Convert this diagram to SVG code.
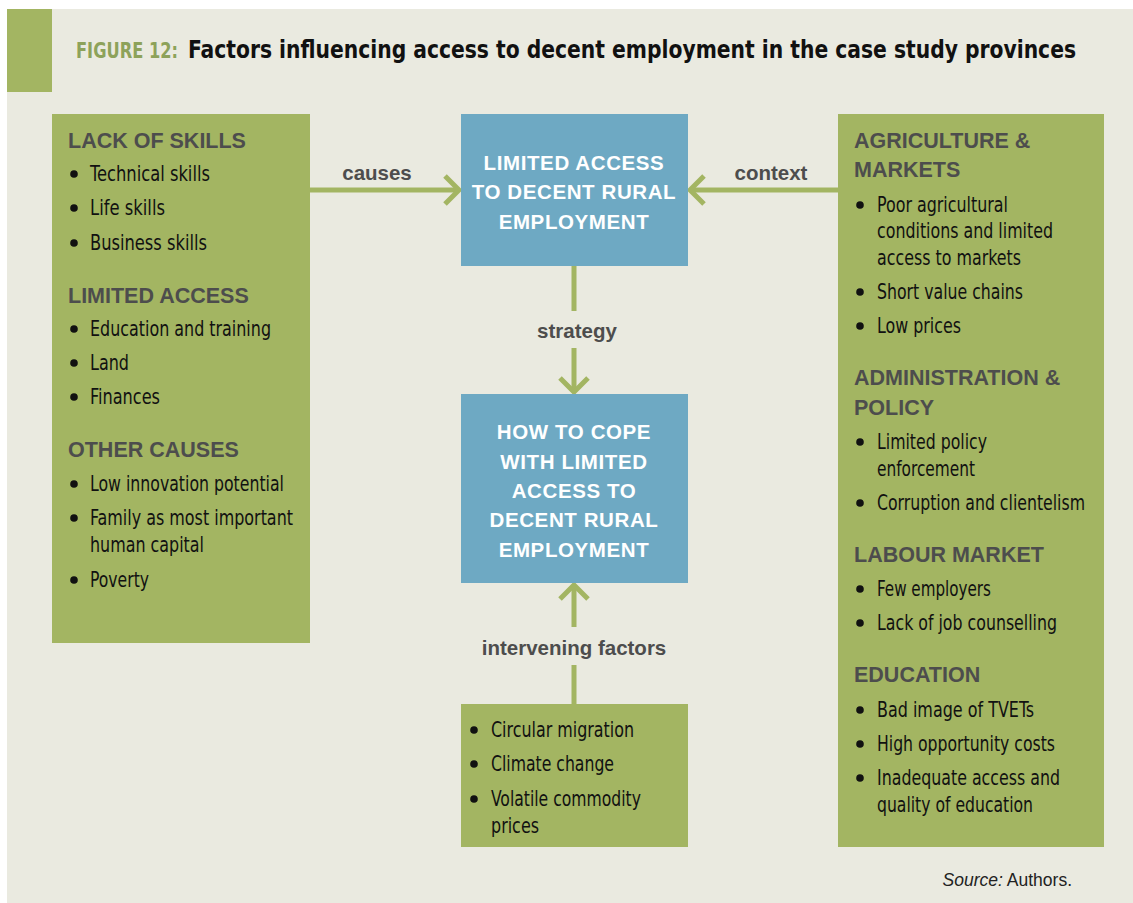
<svg xmlns="http://www.w3.org/2000/svg" width="1133" height="903" viewBox="0 0 1133 903">
<style>
.bg{fill:#EAEAE0}
.gbox{fill:#A3B562}
.bbox{fill:#6EA9C3}
.hd{font-family:"Liberation Sans",Arial,sans-serif;font-weight:bold;font-size:21.5px;fill:#4D4D4D}
.it{font-family:"DejaVu Sans Condensed","Liberation Sans Narrow","Liberation Sans",sans-serif;font-size:22px;fill:#111}
.bt{font-family:"Liberation Sans",Arial,sans-serif;font-weight:bold;font-size:20.5px;fill:#fff;text-anchor:middle;letter-spacing:0.6px}
.lb{font-family:"Liberation Sans",Arial,sans-serif;font-weight:bold;font-size:20.5px;fill:#4D4D4D;text-anchor:middle}
.dot{fill:#111}
.conn{stroke:#A3B562;stroke-width:5;fill:none}
</style>
<defs>
<marker id="chev" markerUnits="userSpaceOnUse" viewBox="0 0 20 32" markerWidth="20" markerHeight="32" refX="17" refY="16" orient="auto">
<path d="M3,2 L17,16 L3,30" stroke="#A3B562" stroke-width="5" fill="none"/>
</marker>
</defs>
<rect x="0" y="0" width="1133" height="903" fill="#fff"/>
<rect class="bg" x="7" y="9" width="1126" height="894"/>
<g id="title">
<rect class="gbox" x="7" y="9" width="45" height="83"/>
<text x="76" y="58" font-family="DejaVu Sans Condensed,sans-serif" font-size="22" fill="#8DA25A" font-weight="bold" textLength="102" lengthAdjust="spacingAndGlyphs">FIGURE 12:</text>
<text x="188" y="58" font-family="DejaVu Sans Condensed,sans-serif" font-size="24" font-weight="bold" fill="#111" textLength="888" lengthAdjust="spacingAndGlyphs">Factors influencing access to decent employment in the case study provinces</text>
</g>
<g id="connectors">
<line class="conn" x1="310" y1="190" x2="459" y2="190" marker-end="url(#chev)"/>
<line class="conn" x1="838" y1="190" x2="690" y2="190" marker-end="url(#chev)"/>
<line class="conn" x1="574" y1="266" x2="574" y2="311"/>
<line class="conn" x1="574" y1="348" x2="574" y2="392" marker-end="url(#chev)"/>
<line class="conn" x1="574" y1="704" x2="574" y2="665"/>
<line class="conn" x1="574" y1="627" x2="574" y2="585" marker-end="url(#chev)"/>
<text class="lb" x="377" y="180">causes</text>
<text class="lb" x="771" y="180">context</text>
<text class="lb" x="577" y="338">strategy</text>
<text class="lb" x="574" y="655">intervening factors</text>
</g>
<g id="causes-box">
<rect class="gbox" x="52" y="114" width="258" height="529"/>
<text class="hd" x="68" y="148">LACK OF SKILLS</text>
<circle class="dot" cx="74" cy="174" r="3.8"/><text class="it" x="90" y="181" textLength="120" lengthAdjust="spacingAndGlyphs">Technical skills</text>
<circle class="dot" cx="74" cy="208" r="3.8"/><text class="it" x="90" y="215" textLength="75" lengthAdjust="spacingAndGlyphs">Life skills</text>
<circle class="dot" cx="74" cy="243" r="3.8"/><text class="it" x="90" y="250" textLength="117" lengthAdjust="spacingAndGlyphs">Business skills</text>
<text class="hd" x="68" y="303">LIMITED ACCESS</text>
<circle class="dot" cx="74" cy="329" r="3.8"/><text class="it" x="90" y="336" textLength="181" lengthAdjust="spacingAndGlyphs">Education and training</text>
<circle class="dot" cx="74" cy="363" r="3.8"/><text class="it" x="90" y="370" textLength="39" lengthAdjust="spacingAndGlyphs">Land</text>
<circle class="dot" cx="74" cy="397" r="3.8"/><text class="it" x="90" y="404" textLength="70" lengthAdjust="spacingAndGlyphs">Finances</text>
<text class="hd" x="68" y="457">OTHER CAUSES</text>
<circle class="dot" cx="74" cy="484" r="3.8"/><text class="it" x="90" y="491" textLength="194" lengthAdjust="spacingAndGlyphs">Low innovation potential</text>
<circle class="dot" cx="74" cy="518" r="3.8"/><text class="it" x="90" y="525" textLength="203" lengthAdjust="spacingAndGlyphs">Family as most important</text>
<text class="it" x="90" y="552" textLength="114" lengthAdjust="spacingAndGlyphs">human capital</text>
<circle class="dot" cx="74" cy="580" r="3.8"/><text class="it" x="90" y="587" textLength="59" lengthAdjust="spacingAndGlyphs">Poverty</text>
</g>
<g id="limited-access">
<rect class="bbox" x="461" y="114" width="227" height="152"/>
<text class="bt" x="574" y="170">LIMITED ACCESS</text>
<text class="bt" x="574" y="199">TO DECENT RURAL</text>
<text class="bt" x="574" y="229">EMPLOYMENT</text>
</g>
<g id="how-to-cope">
<rect class="bbox" x="461" y="394" width="227" height="189"/>
<text class="bt" x="574" y="439">HOW TO COPE</text>
<text class="bt" x="574" y="469">WITH LIMITED</text>
<text class="bt" x="574" y="498">ACCESS TO</text>
<text class="bt" x="574" y="527">DECENT RURAL</text>
<text class="bt" x="574" y="557">EMPLOYMENT</text>
</g>
<g id="intervening-box">
<rect class="gbox" x="461" y="704" width="227" height="143"/>
<circle class="dot" cx="474" cy="730" r="3.8"/><text class="it" x="491" y="737" textLength="143" lengthAdjust="spacingAndGlyphs">Circular migration</text>
<circle class="dot" cx="474" cy="764" r="3.8"/><text class="it" x="491" y="771" textLength="123" lengthAdjust="spacingAndGlyphs">Climate change</text>
<circle class="dot" cx="474" cy="799" r="3.8"/><text class="it" x="491" y="806" textLength="150" lengthAdjust="spacingAndGlyphs">Volatile commodity</text>
<text class="it" x="491" y="833" textLength="48" lengthAdjust="spacingAndGlyphs">prices</text>
</g>
<g id="context-box">
<rect class="gbox" x="838" y="114" width="266" height="733"/>
<text class="hd" x="854" y="148">AGRICULTURE &amp;</text>
<text class="hd" x="854" y="177">MARKETS</text>
<circle class="dot" cx="860" cy="205" r="3.8"/><text class="it" x="877" y="212" textLength="131" lengthAdjust="spacingAndGlyphs">Poor agricultural</text>
<text class="it" x="877" y="238" textLength="176" lengthAdjust="spacingAndGlyphs">conditions and limited</text>
<text class="it" x="877" y="265" textLength="144" lengthAdjust="spacingAndGlyphs">access to markets</text>
<circle class="dot" cx="860" cy="292" r="3.8"/><text class="it" x="877" y="299" textLength="146" lengthAdjust="spacingAndGlyphs">Short value chains</text>
<circle class="dot" cx="860" cy="326" r="3.8"/><text class="it" x="877" y="333" textLength="84" lengthAdjust="spacingAndGlyphs">Low prices</text>
<text class="hd" x="854" y="385">ADMINISTRATION &amp;</text>
<text class="hd" x="854" y="415">POLICY</text>
<circle class="dot" cx="860" cy="442" r="3.8"/><text class="it" x="877" y="449" textLength="110" lengthAdjust="spacingAndGlyphs">Limited policy</text>
<text class="it" x="877" y="476" textLength="98" lengthAdjust="spacingAndGlyphs">enforcement</text>
<circle class="dot" cx="860" cy="503" r="3.8"/><text class="it" x="877" y="510" textLength="208" lengthAdjust="spacingAndGlyphs">Corruption and clientelism</text>
<text class="hd" x="854" y="562">LABOUR MARKET</text>
<circle class="dot" cx="860" cy="589" r="3.8"/><text class="it" x="877" y="596" textLength="114" lengthAdjust="spacingAndGlyphs">Few employers</text>
<circle class="dot" cx="860" cy="623" r="3.8"/><text class="it" x="877" y="630" textLength="180" lengthAdjust="spacingAndGlyphs">Lack of job counselling</text>
<text class="hd" x="854" y="682">EDUCATION</text>
<circle class="dot" cx="860" cy="710" r="3.8"/><text class="it" x="877" y="717" textLength="157" lengthAdjust="spacingAndGlyphs">Bad image of TVETs</text>
<circle class="dot" cx="860" cy="744" r="3.8"/><text class="it" x="877" y="751" textLength="178" lengthAdjust="spacingAndGlyphs">High opportunity costs</text>
<circle class="dot" cx="860" cy="778" r="3.8"/><text class="it" x="877" y="785" textLength="183" lengthAdjust="spacingAndGlyphs">Inadequate access and</text>
<text class="it" x="877" y="812" textLength="156" lengthAdjust="spacingAndGlyphs">quality of education</text>
</g>
<text x="1072" y="886" font-family="Liberation Sans,Arial,sans-serif" font-size="17.5" fill="#222" text-anchor="end"><tspan font-style="italic">Source:</tspan> Authors.</text>
</svg>
